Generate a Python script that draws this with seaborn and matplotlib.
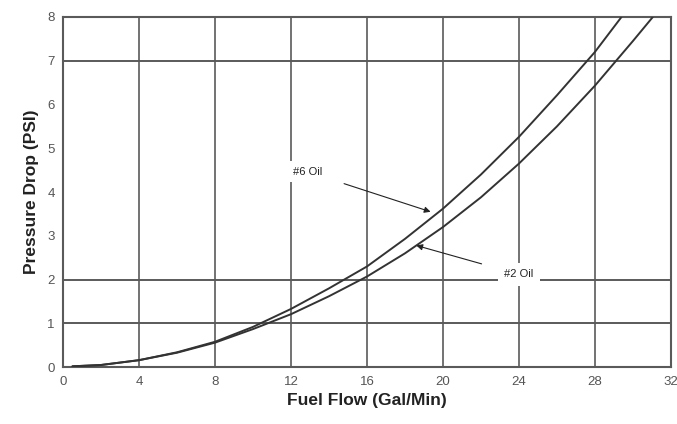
import numpy as np
import pandas as pd
import seaborn as sns
import matplotlib.pyplot as plt

#%% Data
flow_6 = [0.5, 2, 4, 6, 8, 10, 12, 14, 16, 18, 20, 22, 24, 26, 28, 29.4]
drop_6 = [0.02, 0.05, 0.16, 0.34, 0.58, 0.92, 1.33, 1.80, 2.30, 2.93, 3.62, 4.40, 5.26, 6.21, 7.20, 8.0]

flow_2 = [0.5, 2, 4, 6, 8, 10, 12, 14, 16, 18, 20, 22, 24, 26, 28, 30, 31.05]
drop_2 = [0.02, 0.05, 0.16, 0.33, 0.56, 0.87, 1.21, 1.62, 2.07, 2.60, 3.20, 3.88, 4.65, 5.50, 6.43, 7.45, 8.0]

x_ticks = [0, 4, 8, 12, 16, 20, 24, 28, 32]
y_ticks = [0, 1, 2, 3, 4, 5, 6, 7, 8]
h_grid = [1, 2, 7]

df = pd.concat([
    pd.DataFrame({"flow": flow_6, "drop": drop_6, "oil": "#6 Oil"}),
    pd.DataFrame({"flow": flow_2, "drop": drop_2, "oil": "#2 Oil"}),
])

#%% Plot
sns.set_style("white")
plt.rcParams['font.family'] = ['Liberation Sans', 'DejaVu Sans']

fig = plt.figure(figsize=(6.77, 4.24), dpi=100)
ax = fig.add_axes([0.093, 0.134, 0.898, 0.826])

grid_col = "#5a5a5a"
for xv in x_ticks[1:-1]:
    ax.axvline(xv, color=grid_col, lw=1.2, zorder=1)
for yv in h_grid:
    ax.axhline(yv, color=grid_col, lw=1.4, zorder=1)

sns.lineplot(data=df, x="flow", y="drop", hue="oil", palette=["#333333", "#333333"],
             linewidth=1.4, legend=False, sort=True, estimator=None, ax=ax, zorder=3)

ax.set_xlim(0, 32)
ax.set_ylim(0, 8)
ax.set_xticks(x_ticks)
ax.set_yticks(y_ticks)
ax.tick_params(length=0, labelsize=9.5, colors="#555555", pad=6)

for s in ax.spines.values():
    s.set_color(grid_col)
    s.set_linewidth(1.5)

ax.set_xlabel("Fuel Flow (Gal/Min)", fontsize=12.5, fontweight="bold", color="#222222", labelpad=4)
ax.set_ylabel("Pressure Drop (PSI)", fontsize=12.5, fontweight="bold", color="#222222", labelpad=6)

# annotations
ax.annotate("#6 Oil", xy=(19.35, 3.55), xytext=(12.9, 4.46), fontsize=8, color="#222222",
            ha="center", va="center",
            bbox=dict(boxstyle="square,pad=0.5", fc="white", ec="none"),
            arrowprops=dict(arrowstyle="-|>", color="#222222", lw=0.8, mutation_scale=9,
                            shrinkA=12, shrinkB=0), zorder=4)
ax.annotate("#2 Oil", xy=(18.6, 2.78), xytext=(24.0, 2.12), fontsize=8, color="#222222",
            ha="center", va="center",
            bbox=dict(boxstyle="square,pad=0.6", fc="white", ec="none"),
            arrowprops=dict(arrowstyle="-|>", color="#222222", lw=0.8, mutation_scale=9,
                            shrinkA=12, shrinkB=0), zorder=4)

fig.savefig("out.png", dpi=100, facecolor="white")
